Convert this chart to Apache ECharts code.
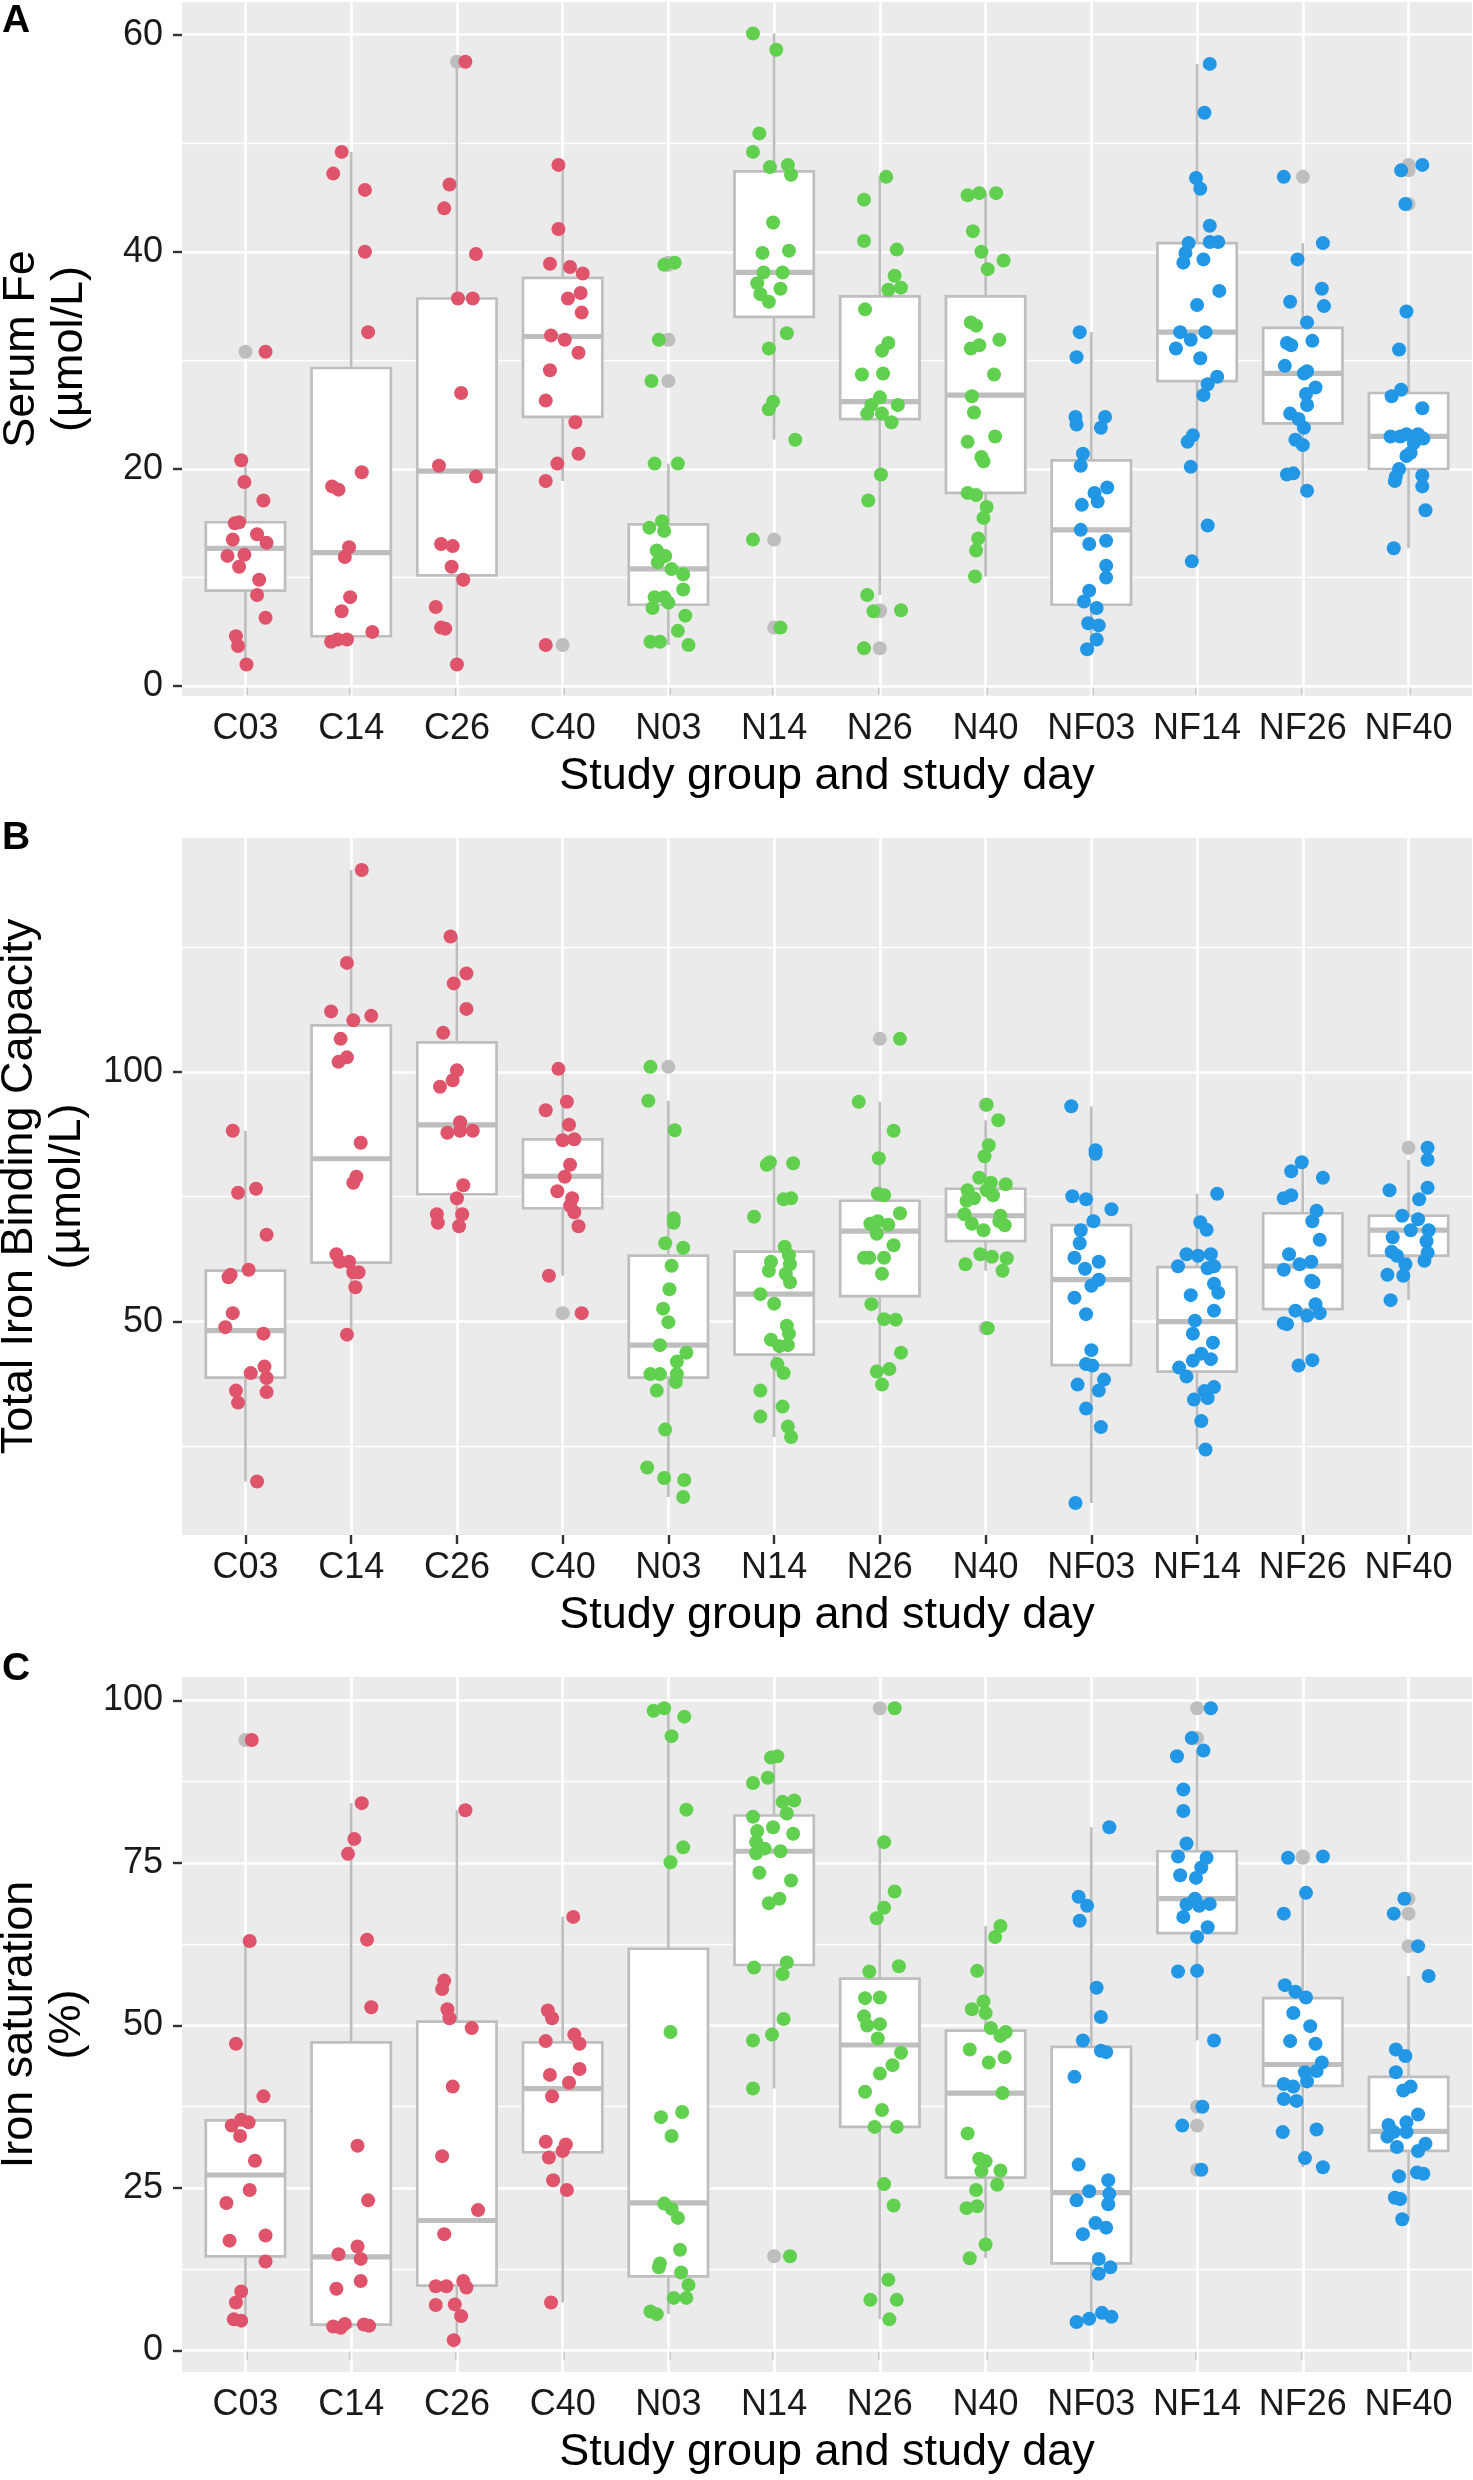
<!DOCTYPE html>
<html>
<head>
<meta charset="utf-8">
<script src="https://cdn.jsdelivr.net/npm/echarts@6/dist/echarts.min.js"></script>
<style>
  html, body { margin: 0; padding: 0; background: #fff; }
  #main { width: 1473px; height: 2480px; }
</style>
</head>
<body>
<div id="main"></div>
<script>
// study group + day, in plotting order
const groups = ['C03', 'C14', 'C26', 'C40', 'N03', 'N14', 'N26', 'N40', 'NF03', 'NF14', 'NF26', 'NF40'];

// tick labels of the three panels
const feTicks = [0, 20, 40, 60];
const tibcTicks = [50, 100];
const satTicks = [0, 25, 50, 75, 100];

// box stats per group: [lower whisker, Q1, median, Q3, upper whisker]
const feBox = [
  [2.0, 8.8, 12.7, 15.1, 20.8], [4.1, 4.6, 12.3, 29.3, 49.2], [2.0, 10.2, 19.8, 35.7, 57.4], [18.9, 24.8, 32.2, 37.6, 48.0],
  [3.8, 7.5, 10.8, 14.9, 20.5], [22.7, 34.0, 38.1, 47.4, 60.1], [8.4, 24.6, 26.2, 35.9, 46.9], [10.1, 17.8, 26.8, 35.9, 45.4],
  [3.4, 7.5, 14.4, 20.8, 32.6], [11.5, 28.1, 32.6, 40.8, 57.3], [18.0, 24.2, 28.8, 33.0, 40.8], [12.7, 20.0, 23.0, 27.0, 34.5]
];
const tibcBox = [
  [18.0, 38.8, 48.2, 60.2, 88.2], [47.4, 61.8, 82.6, 109.3, 140.4], [69.1, 75.5, 89.4, 105.9, 127.1], [59.2, 72.7, 79.1, 86.5, 100.6],
  [14.9, 38.8, 45.3, 63.2, 94.2], [26.9, 43.4, 55.5, 64.0, 81.9], [37.4, 55.1, 68.1, 74.2, 94.0], [60.2, 66.1, 71.2, 76.6, 90.3],
  [13.7, 41.3, 58.4, 69.3, 93.1], [24.4, 40.0, 50.0, 60.9, 75.6], [41.2, 52.5, 61.1, 71.7, 81.9], [54.3, 63.2, 68.3, 71.2, 82.4]
];
const satBox = [
  [4.6, 14.5, 27.0, 35.4, 63.0], [3.5, 4.0, 14.4, 47.4, 84.2], [1.6, 10.0, 20.0, 50.6, 83.1], [7.4, 30.5, 40.3, 47.4, 66.7],
  [5.6, 11.4, 22.7, 61.8, 98.8], [40.3, 59.3, 76.8, 82.3, 91.4], [4.8, 34.4, 47.0, 57.2, 78.2], [14.2, 26.6, 39.6, 49.2, 65.3],
  [4.4, 13.4, 24.3, 46.7, 80.5], [47.7, 64.2, 69.5, 76.8, 92.3], [28.2, 40.7, 44.0, 54.2, 70.4], [20.2, 30.7, 33.7, 42.1, 57.6]
];

// individual animals per group: [jitter offset, value]
const fePts = [
  [[0.19,30.8],[-0.04,20.8],[-0.01,18.8],[0.17,17.1],[-0.1,15.0],[-0.06,15.1],[0.11,14.0],[-0.12,13.5],[0.2,13.2],[-0.17,12.0],[-0.01,12.1],[-0.06,11.0],[0.13,9.8],[0.11,8.4],[0.19,6.3],[-0.09,4.6],[-0.07,3.7],[0.01,2.0]],
  [[-0.09,49.2],[-0.17,47.2],[0.13,45.7],[0.13,40.0],[0.16,32.6],[0.10,19.7],[-0.18,18.4],[-0.12,18.1],[-0.02,12.8],[-0.06,11.9],[-0.01,8.2],[-0.09,6.9],[0.2,5.0],[-0.19,4.1],[-0.13,4.3],[-0.04,4.3]],
  [[0.08,57.5],[-0.07,46.2],[-0.12,44.0],[0.18,39.8],[0.01,35.7],[0.15,35.7],[0.04,27.0],[-0.17,20.3],[0.18,19.3],[-0.15,13.1],[-0.04,12.9],[-0.05,11.0],[0.06,9.8],[-0.2,7.3],[-0.15,5.4],[-0.11,5.3],[0,2.0]],
  [[-0.04,48.0],[-0.04,42.1],[-0.12,38.9],[0.07,38.6],[0.19,38.0],[0.17,36.2],[0.05,35.7],[0.18,34.4],[-0.11,32.3],[0.02,31.9],[0.15,30.7],[-0.12,29.1],[-0.16,26.3],[0.12,24.3],[0.15,21.4],[-0.05,20.5],[-0.16,18.9],[-0.16,3.8]],
  [[-0.04,38.8],[0.06,39.0],[-0.09,31.9],[-0.16,28.1],[-0.13,20.5],[0.09,20.5],[-0.18,14.6],[-0.06,15.2],[-0.04,14.3],[-0.11,12.5],[-0.03,12.0],[-0.1,11.4],[0.03,10.8],[0.14,10.3],[0.14,8.9],[-0.13,8.2],[-0.04,8.2],[0,7.7],[-0.15,7.2],[0.16,6.5],[0.09,5.1],[-0.17,4.1],[-0.08,4.1],[0.19,3.8]],
  [[-0.2,60.1],[0.02,58.6],[-0.14,50.9],[-0.2,49.2],[-0.04,47.8],[0.13,48.0],[0.16,47.1],[-0.01,42.7],[-0.11,39.9],[0.14,40.1],[-0.1,38.1],[0.08,38.1],[-0.16,37.1],[0.06,36.6],[-0.13,36.1],[-0.05,35.4],[0.12,32.5],[-0.05,31.1],[-0.01,26.2],[-0.05,25.5],[0.2,22.7],[-0.2,13.5],[0.06,5.4]],
  [[0.06,46.9],[-0.15,44.8],[-0.15,41.0],[0.16,40.2],[0.14,37.8],[0.2,36.7],[0.08,36.5],[-0.14,34.7],[0.08,31.6],[0.02,30.9],[-0.17,28.7],[0.03,28.8],[0,26.6],[0.17,25.9],[-0.08,25.9],[-0.12,25.1],[0.02,25.1],[0.11,24.3],[0.01,19.5],[-0.11,17.1],[-0.12,8.4],[-0.06,6.9],[0.2,7.0],[-0.15,3.5]],
  [[-0.17,45.2],[-0.06,45.4],[0.1,45.4],[-0.12,41.9],[-0.04,40.0],[0.17,39.2],[0.02,38.4],[-0.14,33.5],[-0.09,33.2],[0.13,31.9],[-0.14,31.1],[-0.06,31.4],[0.08,28.7],[-0.13,26.7],[-0.11,25.2],[-0.17,22.5],[0.09,23.0],[-0.04,21.1],[-0.02,20.7],[-0.17,17.8],[-0.09,17.6],[0.01,16.5],[-0.02,15.5],[-0.07,13.6],[-0.09,12.5],[-0.1,10.1]],
  [[-0.11,32.6],[-0.14,30.3],[-0.15,24.8],[-0.14,24.1],[0.13,24.8],[0.09,23.8],[-0.08,21.4],[-0.1,20.3],[0.15,18.3],[0.03,17.8],[0.06,17.0],[-0.09,16.7],[-0.1,14.4],[-0.02,13.1],[0.14,13.4],[0.14,11.1],[0.14,10.0],[-0.02,8.8],[-0.07,7.8],[0.05,7.2],[-0.03,5.8],[0.07,5.6],[0.05,4.3],[-0.04,3.4]],
  [[0.12,57.3],[0.07,52.8],[-0.01,46.8],[0.03,45.8],[0.12,42.4],[-0.08,40.8],[0.12,40.9],[0.2,40.9],[-0.11,39.9],[0.06,39.3],[-0.13,39.0],[0.21,36.4],[0,35.1],[-0.16,32.6],[0.08,32.6],[-0.06,31.9],[-0.2,31.1],[0.03,30.2],[0.19,28.5],[0.1,27.8],[0.06,26.8],[-0.04,23.1],[-0.09,22.5],[-0.06,20.2],[0.1,14.8],[-0.05,11.5]],
  [[-0.18,46.9],[0.19,40.8],[-0.05,39.3],[-0.12,35.4],[0.18,36.6],[0.2,35.0],[0.04,33.5],[-0.15,31.6],[-0.11,31.4],[0.09,31.8],[-0.17,29.5],[0.01,28.8],[0.04,29.0],[0.12,27.5],[0.03,26.9],[0.04,25.9],[-0.12,25.1],[-0.04,24.6],[0.01,23.8],[-0.07,22.7],[0,22.2],[-0.15,19.5],[-0.09,19.6],[0.04,18.0]],
  [[-0.07,47.5],[0.13,48.0],[-0.03,44.4],[-0.02,34.5],[-0.09,31.0],[-0.07,27.3],[-0.16,26.7],[0.13,25.6],[-0.17,23.0],[-0.08,23.0],[-0.02,23.2],[0.09,23.2],[0.14,22.8],[0.05,22.4],[0.02,21.5],[-0.02,21.2],[-0.09,20.0],[-0.12,19.3],[-0.13,18.9],[0.13,19.4],[0.13,18.4],[0.16,16.2],[-0.14,12.7]]
];
const tibcPts = [
  [[-0.12,88.2],[-0.07,75.8],[0.1,76.6],[0.2,67.4],[-0.14,59.4],[-0.16,58.9],[0.03,60.4],[-0.12,51.7],[-0.19,48.9],[0.17,47.6],[0.05,39.7],[0.18,41.0],[0.2,38.7],[-0.09,36.2],[0.2,35.9],[-0.07,33.8],[0.11,18.0]],
  [[0.1,140.4],[-0.04,121.8],[-0.19,112.1],[0.02,110.3],[0.19,111.2],[-0.1,106.6],[-0.12,102.0],[-0.04,102.9],[0.09,85.8],[0.05,79.0],[0.02,77.8],[-0.14,63.5],[-0.11,62.0],[-0.02,62.0],[0.02,59.9],[0.07,59.9],[0.04,56.9],[-0.04,47.4]],
  [[-0.06,127.1],[0.09,119.7],[-0.03,117.7],[0.09,112.6],[-0.13,107.8],[0,100.3],[-0.04,98.3],[-0.16,97.0],[0.03,89.9],[-0.09,87.8],[0.03,88.2],[0.15,88.2],[0.06,77.3],[0,74.7],[-0.19,71.5],[0.05,71.5],[-0.18,69.8],[0.02,69.1]],
  [[-0.04,100.6],[-0.16,92.3],[0.04,94.0],[0.06,89.4],[0,86.3],[0.11,86.5],[0.07,81.4],[0.02,79.0],[-0.05,76.1],[0.09,74.7],[0.07,73.2],[0.11,71.9],[0.15,69.1],[-0.13,59.2],[0.18,51.7]],
  [[-0.17,101.0],[-0.19,94.2],[0.06,88.3],[0.05,70.7],[0.05,69.8],[-0.03,65.7],[0.14,64.8],[0.03,61.2],[0.01,56.5],[-0.05,52.6],[0,49.9],[-0.08,45.3],[0.17,43.8],[0.08,42.0],[-0.17,39.5],[-0.08,39.5],[0.08,39.5],[0.07,37.9],[-0.11,36.2],[-0.03,28.4],[-0.2,20.8],[-0.04,18.7],[0.15,18.3],[0.14,14.9]],
  [[-0.07,81.4],[-0.04,81.9],[0.18,81.7],[0.09,74.5],[0.16,74.7],[-0.19,71.0],[0.1,65.0],[0.14,63.3],[-0.03,62.0],[0.15,61.5],[-0.05,60.2],[0.11,59.6],[0.15,57.9],[-0.13,55.5],[0,53.6],[0.12,49.2],[0.14,47.6],[-0.03,46.4],[0.05,45.1],[0.13,45.3],[0.03,41.5],[0.09,39.7],[-0.13,36.2],[0.08,33.0],[-0.13,31.0],[0.13,29.0],[0.16,26.9]],
  [[0.19,106.6],[-0.2,94.0],[0.13,88.2],[-0.01,82.7],[-0.02,75.6],[0.04,75.3],[0.19,71.7],[-0.09,69.6],[-0.02,70.1],[0.08,69.4],[-0.03,67.6],[0.13,65.3],[-0.15,62.8],[-0.1,62.8],[0.04,62.8],[0.02,59.6],[-0.08,53.5],[0.04,50.5],[0.15,50.4],[0.2,43.8],[-0.03,40.0],[0.09,40.5],[0.02,37.4]],
  [[0.01,93.4],[0.12,90.3],[0.03,85.3],[-0.01,83.1],[-0.06,78.8],[0.05,77.8],[0.19,77.5],[-0.17,76.3],[0.01,76.3],[0.07,75.3],[-0.18,74.2],[-0.11,74.7],[-0.2,71.5],[0.14,71.2],[-0.13,69.6],[0.13,70.1],[-0.02,68.3],[0.18,69.3],[-0.05,63.5],[0.06,63.0],[0.2,62.7],[-0.19,61.5],[0.16,60.2],[0.02,48.7]],
  [[-0.19,93.1],[0.04,84.3],[0.04,83.6],[-0.18,75.1],[-0.05,74.5],[0.19,72.5],[0.02,70.1],[-0.1,68.3],[-0.11,65.7],[-0.16,62.8],[-0.06,60.6],[0.07,62.0],[0.07,58.4],[0,57.2],[-0.16,54.8],[-0.05,51.5],[0,44.3],[-0.05,41.5],[0.01,41.2],[0.12,38.4],[-0.13,37.4],[0.07,36.2],[-0.05,32.6],[0.09,28.9],[-0.15,13.7]],
  [[0.19,75.6],[0.03,69.9],[0.09,68.4],[-0.1,63.5],[0.01,63.2],[0.13,63.5],[-0.18,61.1],[0.1,60.7],[0.16,61.1],[0.16,57.6],[0.2,55.8],[-0.06,55.3],[0.16,52.2],[-0.02,50.2],[-0.04,47.6],[0.15,45.8],[0.04,43.6],[0.13,42.5],[-0.04,42.2],[-0.17,40.8],[-0.1,39.0],[0.16,36.9],[0.07,36.1],[-0.03,34.4],[0.1,34.7],[0.04,30.1],[0.08,24.4]],
  [[-0.01,81.9],[-0.11,80.1],[0.19,78.8],[-0.18,74.7],[-0.11,75.3],[0.13,72.2],[0.09,70.1],[0.16,66.4],[-0.13,63.5],[-0.18,60.4],[-0.03,61.5],[0.08,62.0],[0.08,58.2],[0.1,57.9],[0.12,53.5],[-0.07,52.2],[0.04,51.2],[0.16,51.7],[-0.18,49.7],[-0.15,49.5],[0.09,42.3],[-0.04,41.2]],
  [[0.18,84.8],[0.18,82.4],[-0.18,76.3],[0.18,76.8],[0.1,74.5],[-0.06,71.2],[0.09,70.5],[0.02,68.3],[0.19,68.3],[-0.15,66.9],[0.17,66.1],[-0.16,64.0],[-0.11,63.2],[0.18,63.8],[0.15,62.2],[-0.03,61.5],[-0.2,59.4],[-0.05,59.2],[-0.17,54.3]]
];
const satPts = [
  [[0.06,93.9],[0.04,63.0],[-0.09,47.2],[0.17,39.1],[-0.04,35.5],[0.03,35.1],[-0.13,34.6],[-0.05,33.0],[0.09,29.2],[0.04,24.7],[-0.18,22.7],[0.19,17.7],[-0.15,16.9],[0.19,13.7],[-0.04,9.1],[-0.09,7.4],[-0.11,4.8],[-0.04,4.6]],
  [[0.1,84.2],[0.03,78.7],[-0.03,76.4],[0.15,63.2],[0.19,52.8],[0.06,31.5],[0.16,23.1],[0.06,16.0],[-0.12,14.8],[0.09,14.1],[0.09,10.7],[-0.14,9.5],[-0.17,3.7],[-0.1,3.5],[-0.06,4.1],[0.12,4.0],[0.17,3.8]],
  [[0.08,83.1],[-0.12,56.9],[-0.14,55.6],[-0.09,52.5],[-0.07,51.1],[0.14,49.6],[-0.04,40.6],[-0.14,29.9],[0.2,21.6],[-0.12,17.9],[-0.2,9.9],[-0.1,9.9],[0.06,10.7],[0.09,9.7],[-0.2,7.0],[-0.02,7.1],[0.04,5.3],[-0.03,1.6]],
  [[0.1,66.7],[-0.14,52.3],[-0.1,51.1],[0.11,48.6],[-0.16,47.6],[0.16,47.2],[0.16,43.3],[-0.12,42.4],[0.06,41.2],[-0.1,39.1],[-0.16,32.1],[0.03,31.7],[0,30.7],[-0.13,29.7],[-0.09,26.2],[0.04,24.7],[-0.11,7.4]],
  [[-0.14,98.4],[-0.04,98.8],[0.15,97.5],[0.03,94.5],[0.17,83.2],[0.14,77.4],[0.02,75.1],[0.02,49.0],[-0.07,35.9],[0.13,36.7],[0.03,33.0],[-0.04,22.6],[0.03,21.8],[0.09,20.4],[0.11,15.5],[-0.08,13.4],[-0.09,12.8],[0.12,12.0],[0.19,10.1],[0.17,8.1],[0.05,8.1],[-0.17,6.0],[-0.11,5.6]],
  [[-0.03,91.2],[0.03,91.4],[-0.06,88.1],[-0.2,87.3],[0.08,84.4],[0.19,84.6],[-0.2,82.1],[0.12,82.6],[-0.01,80.5],[-0.16,79.9],[0.18,79.5],[-0.17,78.2],[-0.09,77.2],[-0.17,76.5],[0.06,76.8],[-0.14,73.5],[0.16,72.3],[0.05,69.5],[-0.05,68.8],[-0.19,58.9],[0.12,59.7],[0.08,57.9],[0.09,51.0],[-0.2,47.7],[-0.02,48.6],[-0.2,40.3],[0.15,14.5]],
  [[0.14,98.8],[0.04,78.2],[0.14,70.6],[0.04,68.1],[-0.03,66.5],[-0.1,58.3],[0.18,59.1],[-0.14,54.2],[0,54.3],[-0.15,51.4],[-0.12,50.0],[0,50.2],[-0.02,48.0],[0.2,45.8],[0.12,43.9],[0,42.6],[-0.14,39.8],[0.02,37.0],[-0.05,34.4],[0.16,34.4],[0.04,25.6],[0.13,22.3],[0.08,10.9],[-0.09,7.8],[0.16,7.8],[0.09,4.8]],
  [[0.14,65.3],[0.09,63.6],[-0.08,58.4],[-0.02,53.7],[-0.13,52.5],[0,51.9],[0.05,49.6],[0.14,48.4],[0.19,49.0],[-0.15,46.3],[0.03,44.3],[0.18,45.1],[0.16,39.6],[-0.17,33.4],[-0.06,29.5],[0,29.1],[-0.04,27.6],[0.14,27.7],[0.11,25.5],[-0.09,24.7],[-0.18,21.9],[-0.08,22.2],[0,16.3],[-0.15,14.2]],
  [[0.17,80.5],[-0.12,69.8],[-0.04,68.4],[-0.11,66.1],[0.05,55.8],[0.09,51.3],[-0.08,47.7],[0.09,46.1],[0.14,45.9],[-0.16,42.1],[-0.12,28.6],[0.16,26.2],[-0.02,24.5],[-0.14,23.1],[0.17,24.1],[0.16,22.5],[0.04,19.6],[0.14,18.9],[-0.08,17.9],[0.07,14.1],[0.18,12.8],[0.07,11.8],[0.1,5.8],[0.19,5.2],[-0.02,4.9],[-0.14,4.4]],
  [[0.13,98.8],[-0.05,94.2],[0.06,92.3],[-0.19,91.4],[-0.13,86.3],[-0.13,83.0],[-0.1,78.0],[-0.18,76.0],[0.09,75.8],[0.04,74.3],[-0.16,73.1],[-0.01,72.7],[-0.02,69.5],[-0.1,68.6],[0.12,68.7],[0.02,68.4],[-0.13,66.7],[0.1,65.1],[0,63.6],[-0.18,58.3],[0,58.4],[0.16,47.7],[0.05,37.5],[-0.14,34.6],[0.04,27.8]],
  [[-0.14,75.8],[0.19,76.0],[0.03,70.4],[-0.18,67.2],[-0.17,56.2],[-0.07,55.2],[0.03,54.3],[-0.09,51.9],[0.07,49.9],[-0.12,47.6],[0.12,47.2],[0.18,44.3],[0.13,43.0],[0.02,42.8],[0.04,41.4],[-0.18,41.0],[-0.09,40.6],[-0.18,38.7],[-0.06,38.4],[-0.19,33.6],[0.13,34.0],[0.02,29.6],[0.19,28.2]],
  [[-0.04,69.5],[-0.14,67.2],[0.09,62.2],[0.19,57.6],[-0.12,46.3],[-0.03,45.3],[-0.12,42.8],[0.02,40.6],[-0.05,40.0],[0.09,36.3],[-0.19,34.7],[-0.02,35.1],[-0.14,33.6],[-0.02,33.6],[-0.2,32.9],[-0.11,31.3],[0.16,31.8],[0.09,30.7],[0.08,27.4],[0.14,27.2],[-0.09,26.8],[-0.13,23.5],[-0.08,23.3],[-0.06,20.2]]
];

const FONT = '"Liberation Sans", Arial, sans-serif';
const familyColors = ['#DF536B', '#61D04F', '#2297E6']; // C, N, NF
const boxGrey = '#BEBEBE';
const dotSize = 14;

const panels = [
  { letter: 'A', name: 'Serum Fe\n(µmol/L)', box: feBox, pts: fePts, ticks: feTicks, minor: [10, 30, 50],
    min: -0.9, max: 63.0, top: 2, height: 694 },
  { letter: 'B', name: 'Total Iron Binding Capacity\n(µmol/L)', box: tibcBox, pts: tibcPts, ticks: tibcTicks, minor: [25, 75, 125],
    min: 7.3, max: 146.8, top: 838, height: 697 },
  { letter: 'C', name: 'Iron saturation\n(%)', box: satBox, pts: satPts, ticks: satTicks, minor: [12.5, 37.5, 62.5, 87.5],
    min: -3.3, max: 103.6, top: 1677, height: 695 }
];
const letterTops = [2, 819, 1650];

function renderBox(params, api) {
  const x = api.value(0);
  const half = 0.375;
  const lo = api.coord([x, api.value(1)]);
  const q1 = api.coord([x, api.value(2)]);
  const md = api.coord([x, api.value(3)]);
  const q3 = api.coord([x, api.value(4)]);
  const hi = api.coord([x, api.value(5)]);
  const left = api.coord([x - half, api.value(3)])[0];
  const right = api.coord([x + half, api.value(3)])[0];
  return {
    type: 'group',
    children: [
      { type: 'line', shape: { x1: lo[0], y1: lo[1], x2: q1[0], y2: q1[1] }, style: { stroke: boxGrey, lineWidth: 2.7 } },
      { type: 'line', shape: { x1: q3[0], y1: q3[1], x2: hi[0], y2: hi[1] }, style: { stroke: boxGrey, lineWidth: 2.7 } },
      { type: 'rect', shape: { x: left, y: q3[1], width: right - left, height: q1[1] - q3[1] },
        style: { fill: '#fff', stroke: boxGrey, lineWidth: 2.7 } },
      { type: 'line', shape: { x1: left, y1: md[1], x2: right, y2: md[1] }, style: { stroke: boxGrey, lineWidth: 5.2 } }
    ]
  };
}

const grid = [], xAxis = [], yAxis = [], series = [], graphic = [];
const catTicks = groups.map((g, i) => i + 1);

panels.forEach((p, k) => {
  grid.push({ left: 182, right: 1, top: p.top, height: p.height, show: true, backgroundColor: '#EBEBEB', borderWidth: 0,
    containLabel: false, outerBoundsMode: 'none' });
  xAxis.push({
    type: 'value', gridIndex: k, min: 0.4, max: 12.6,
    name: 'Study group and study day', nameLocation: 'middle', nameGap: 58,
    nameTextStyle: { fontSize: 45, color: '#000', fontFamily: FONT },
    axisLine: { show: false },
    splitLine: { show: false },
    axisTick: { show: true, length: 9, lineStyle: { color: '#333', width: 2.4 }, customValues: catTicks },
    axisLabel: { customValues: catTicks, fontSize: 36, color: '#1a1a1a', fontFamily: FONT, margin: 15,
      formatter: v => groups[Math.round(v) - 1] }
  });
  yAxis.push({
    type: 'value', gridIndex: k, min: p.min, max: p.max,
    name: p.name, nameLocation: 'middle', nameRotate: 90, nameGap: 88,
    nameTextStyle: { fontSize: 45, lineHeight: 48, color: '#000', fontFamily: FONT, align: 'center' },
    axisLine: { show: false },
    splitLine: { show: false },
    axisTick: { show: true, length: 9, lineStyle: { color: '#333', width: 2.4 }, customValues: p.ticks },
    axisLabel: { customValues: p.ticks, fontSize: 36, color: '#1a1a1a', fontFamily: FONT, margin: 19 }
  });

  // panel grid lines (white), in data units
  const gridLines = [];
  p.ticks.forEach(v => gridLines.push({ yAxis: v, lineStyle: { width: 2.7 } }));
  p.minor.forEach(v => gridLines.push({ yAxis: v, lineStyle: { width: 1.4 } }));
  catTicks.forEach(v => gridLines.push({ xAxis: v, lineStyle: { width: 2.7 } }));
  series.push({
    type: 'scatter', xAxisIndex: k, yAxisIndex: k, data: [], z: 1, silent: true,
    markLine: { z: 1, silent: true, symbol: ['none', 'none'], label: { show: false }, animation: false,
      lineStyle: { color: '#fff', type: 'solid' }, emphasis: { disabled: true }, data: gridLines }
  });

  // boxes
  series.push({
    type: 'custom', xAxisIndex: k, yAxisIndex: k, z: 2, silent: true,
    renderItem: renderBox,
    encode: { x: 0, y: [1, 2, 3, 4, 5] },
    data: p.box.map((b, i) => [i + 1].concat(b))
  });

  // outliers drawn by the boxplot layer (grey, at group centre)
  const outliers = [];
  p.pts.forEach((list, i) => {
    const b = p.box[i];
    list.forEach(([j, v]) => { if (v > b[4] + 1e-9 || v < b[0] - 1e-9) outliers.push([i + 1, v]); });
  });
  series.push({
    type: 'scatter', xAxisIndex: k, yAxisIndex: k, z: 3, silent: true,
    symbolSize: dotSize, itemStyle: { color: boxGrey, opacity: 1 }, data: outliers
  });

  // jittered points, one series per study group family
  familyColors.forEach((col, f) => {
    const data = [];
    p.pts.forEach((list, i) => {
      if (Math.floor(i / 4) !== f) return;
      list.forEach(([j, v]) => data.push([i + 1 + j, v]));
    });
    series.push({
      type: 'scatter', xAxisIndex: k, yAxisIndex: k, z: 4, silent: true,
      symbolSize: dotSize, itemStyle: { color: col, opacity: 1 }, data: data
    });
  });

  graphic.push({
    type: 'text', left: 2, top: letterTops[k],
    style: { text: p.letter, font: 'bold 39px ' + FONT, fill: '#000' }
  });
});

const chart = echarts.init(document.getElementById('main'), null, { renderer: 'canvas' });
chart.setOption({
  backgroundColor: '#fff',
  animation: false,
  grid: grid,
  xAxis: xAxis,
  yAxis: yAxis,
  series: series,
  graphic: graphic
});
</script>
</body>
</html>
